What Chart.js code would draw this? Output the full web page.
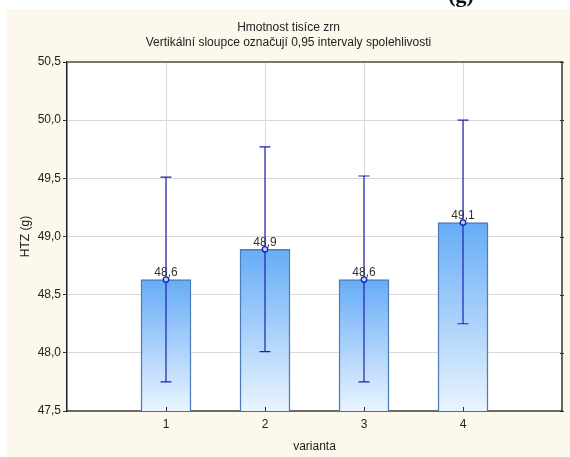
<!DOCTYPE html>
<html><head><meta charset="utf-8">
<script src="https://cdn.jsdelivr.net/npm/chart.js@4.4.1/dist/chart.umd.min.js"></script>
<style>html,body{margin:0;padding:0;background:#fff;overflow:hidden}</style>
</head><body>
<canvas id="c" width="570" height="457"></canvas>
<script>
const categories = ['1', '2', '3', '4'];
const xPositions = [1, 2, 3, 4];
const means = [48.63, 48.89, 48.63, 49.12];
const ciLow = [47.75, 48.01, 47.75, 48.25];
const ciHigh = [49.51, 49.77, 49.52, 50.00];
const meanLabels = ['48,6', '48,9', '48,6', '49,1'];
const yTickValues = [47.5, 48.0, 48.5, 49.0, 49.5, 50.0, 50.5];
const yTickLabels = ['47,5', '48,0', '48,5', '49,0', '49,5', '50,0', '50,5'];
const titleLines = ['Hmotnost tisíce zrn', 'Vertikální sloupce označují 0,95 intervaly spolehlivosti'];
const yAxisTitle = 'HTZ (g)';
const xAxisTitle = 'varianta';
const cutText = '(g)';

const FONT = '"Liberation Sans", Arial, sans-serif';
const ERR = '#1c22b4';

const decor = {
  id: 'decor',
  beforeDraw(chart) {
    const { ctx, chartArea: a, width, height } = chart;
    ctx.save();
    ctx.fillStyle = '#ffffff';
    ctx.fillRect(0, 0, width, height);
    ctx.fillStyle = '#111';
    ctx.font = 'bold 22px "Liberation Serif", serif';
    ctx.textAlign = 'center';
    ctx.textBaseline = 'alphabetic';
    ctx.fillText(cutText, 461, 2);
    ctx.fillStyle = '#fcf8ec';
    ctx.fillRect(7, 9, width - 7, height - 9);
    ctx.fillStyle = '#ffffff';
    ctx.fillRect(a.left, a.top, a.right - a.left, a.bottom - a.top);
    ctx.restore();
  },
  afterDraw(chart) {
    const { ctx, chartArea: a, scales: { x, y } } = chart;
    ctx.save();
    ctx.strokeStyle = '#777';
    ctx.lineWidth = 2;
    ctx.beginPath(); ctx.moveTo(a.left, a.top); ctx.lineTo(a.right, a.top); ctx.stroke();
    ctx.strokeStyle = '#333';
    ctx.lineWidth = 1.5;
    ctx.beginPath(); ctx.moveTo(a.right, a.top - 1); ctx.lineTo(a.right, a.bottom); ctx.stroke();
    ctx.lineWidth = 1;
    yTickValues.forEach(v => {
      const py = Math.round(y.getPixelForValue(v)) + 0.5;
      ctx.beginPath(); ctx.moveTo(a.right - 2, py); ctx.lineTo(a.right + 2, py); ctx.stroke();
    });
    xPositions.forEach(v => {
      const px = Math.round(x.getPixelForValue(v)) + 0.5;
      ctx.beginPath(); ctx.moveTo(px, a.bottom); ctx.lineTo(px, a.bottom - 4); ctx.stroke();
    });
    xPositions.forEach((v, i) => {
      const px = x.getPixelForValue(v);
      const pLo = y.getPixelForValue(ciLow[i]);
      const pHi = y.getPixelForValue(ciHigh[i]);
      const pM = y.getPixelForValue(means[i]);
      ctx.strokeStyle = ERR;
      ctx.lineWidth = 1.2;
      ctx.beginPath();
      ctx.moveTo(px, pLo); ctx.lineTo(px, pHi);
      ctx.moveTo(px - 5.5, pLo); ctx.lineTo(px + 5.5, pLo);
      ctx.moveTo(px - 5.5, pHi); ctx.lineTo(px + 5.5, pHi);
      ctx.stroke();
      ctx.beginPath();
      ctx.arc(px, pM, 2.7, 0, Math.PI * 2);
      ctx.fillStyle = 'rgba(200,225,255,0.9)';
      ctx.fill();
      ctx.lineWidth = 1.4;
      ctx.stroke();
      ctx.fillStyle = '#333';
      ctx.font = '12px ' + FONT;
      ctx.textAlign = 'center';
      ctx.textBaseline = 'middle';
      ctx.fillText(meanLabels[i], px, pM - 7);
    });
    ctx.restore();
  }
};

new Chart(document.getElementById('c'), {
  type: 'bar',
  data: {
    datasets: [{
      data: xPositions.map((v, i) => ({ x: v, y: means[i] })),
      barThickness: 50,
      borderColor: '#4d7db8',
      borderWidth: 1.5,
      backgroundColor: (c) => {
        const ch = c.chart, a = ch.chartArea;
        if (!a || c.dataIndex === undefined) return '#8fc3f8';
        const top = ch.scales.y.getPixelForValue(means[c.dataIndex]);
        const g = ch.ctx.createLinearGradient(0, top, 0, a.bottom);
        g.addColorStop(0, '#66acf7');
        g.addColorStop(1, '#eaf4fe');
        return g;
      }
    }]
  },
  options: {
    responsive: false,
    animation: false,
    devicePixelRatio: 1,
    layout: { padding: { left: 15, right: 8, top: 0, bottom: 0 } },
    plugins: {
      legend: { display: false },
      tooltip: { enabled: false },
      title: {
        display: true,
        text: titleLines,
        color: '#222',
        font: { family: FONT, size: 12, weight: 'normal', lineHeight: 1.25 },
        padding: { top: 20, bottom: 12 }
      }
    },
    scales: {
      x: {
        type: 'linear',
        min: 0, max: 5,
        offset: false,
        afterBuildTicks: (s) => { s.ticks = xPositions.map(v => ({ value: v })); },
        afterFit: (s) => { s.height = 46; },
        ticks: {
          callback: (v) => categories[xPositions.indexOf(v)],
          color: '#222',
          font: { family: FONT, size: 12 },
          padding: 6,
          maxRotation: 0
        },
        grid: { offset: false, color: '#d9d9d9', lineWidth: 1, drawTicks: false },
        border: { color: '#6b6b6b', width: 2 },
        title: { display: true, text: xAxisTitle, color: '#222', font: { family: FONT, size: 12 }, padding: { top: 0, bottom: 3 } }
      },
      y: {
        min: 47.5, max: 50.5,
        afterBuildTicks: (s) => { s.ticks = yTickValues.map(v => ({ value: v })); },
        afterFit: (s) => { s.width = 52; },
        ticks: {
          callback: (v) => yTickLabels[yTickValues.indexOf(v)],
          color: '#222',
          font: { family: FONT, size: 12 },
          padding: 2
        },
        grid: { color: '#d9d9d9', lineWidth: 1, tickLength: 4, tickColor: '#333' },
        border: { color: '#222', width: 1.5 },
        title: { display: true, text: yAxisTitle, color: '#222', font: { family: FONT, size: 12 }, padding: { top: 3, bottom: 0 } }
      }
    }
  },
  plugins: [decor]
});
</script>
</body></html>
